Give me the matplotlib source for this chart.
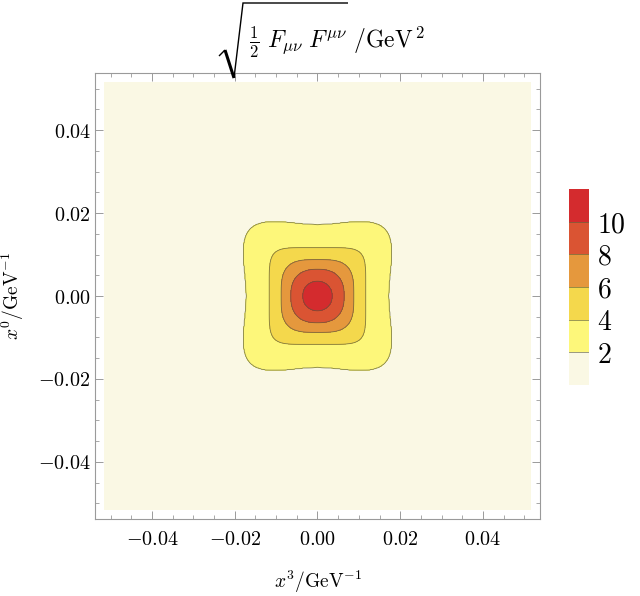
import numpy as np
import matplotlib
matplotlib.use("Agg")
import matplotlib.pyplot as plt
from matplotlib.colors import ListedColormap, BoundaryNorm
from matplotlib.ticker import MultipleLocator, FuncFormatter
from matplotlib.lines import Line2D

plt.rcParams.update({
    "mathtext.fontset": "cm",
    "font.family": "serif",
    "font.serif": ["DejaVu Serif"],
})

# ── contour levels and their shape (GeV^-1) ──
LEVELS     = [0, 2, 4, 6, 8, 10, 12]
CB_TICKS   = [2, 4, 6, 8, 10]
# for contours 10, 8, 6, 4, 2: radius at mid-side, radius on the diagonal,
# and how much the sides dip inwards at mid-side
R_LEVELS   = [10, 8, 6, 4, 2]
R_AXIS     = [0.00358, 0.00646, 0.00878, 0.01165, 0.0172]
R_DIAG     = [0.00362, 0.0069, 0.0101, 0.01467, 0.0229]
SIDE_DIP   = [0.0, 0.0, 0.0, 0.0, 0.06]
PEAK_VALUE = 11.6
EDGE_VALUE = 0.5
EDGE_R     = 0.09
COLORS     = ["#FAF8E4", "#FDF77A", "#F4D84C", "#E5983D", "#DA5433", "#D42B2E"]

DATA_HALF = 0.0516
AX_HALF   = 0.0538

# ── build the field from the contour shapes ──
g = np.linspace(-DATA_HALF, DATA_HALF, 601)
X, Y = np.meshgrid(g, g)
R = np.hypot(X, Y)
Rs = np.where(R > 0, R, 1.0)
C = np.abs(X) / Rs
S = np.abs(Y) / Rs
COS2 = ((X**2 - Y**2) / Rs**2) ** 2

knots_r = [np.zeros_like(R)]
knots_v = [PEAK_VALUE]
for lev, ra, rd, dip in zip(R_LEVELS, R_AXIS, R_DIAG, SIDE_DIP):
    a = ra / (1 - dip)
    p = 1.0 / (0.5 - np.log2(rd / a))
    shape = 1.0 / (C**p + S**p) ** (1.0 / p)
    knots_r.append(a * shape * (1 - dip * COS2))
    knots_v.append(lev)
knots_r.append(np.full_like(R, EDGE_R))
knots_v.append(EDGE_VALUE)

Z = np.full_like(R, EDGE_VALUE)
for k in range(len(knots_r) - 1):
    r0, r1 = knots_r[k], knots_r[k + 1]
    m = (R >= r0) & (R < r1)
    Z[m] = knots_v[k] + (knots_v[k + 1] - knots_v[k]) * (R[m] - r0[m]) / (r1[m] - r0[m])

fig = plt.figure(figsize=(6.4, 5.96), dpi=100)
ax = fig.add_axes([0.1484, 0.1292, 0.6953, 0.7483])

cmap = ListedColormap(COLORS)
norm = BoundaryNorm(LEVELS, cmap.N)
cs = ax.contourf(X, Y, Z, levels=LEVELS, cmap=cmap, norm=norm)
ax.contour(X, Y, Z, levels=CB_TICKS, colors="#5a5a3a", linewidths=0.6, alpha=0.75)

ax.set_xlim(-AX_HALF, AX_HALF)
ax.set_ylim(-AX_HALF, AX_HALF)

fmt = FuncFormatter(lambda v, p: "$%.2f$" % (0.0 if abs(v) < 1e-9 else v))
for axis in (ax.xaxis, ax.yaxis):
    axis.set_major_locator(MultipleLocator(0.02))
    axis.set_minor_locator(MultipleLocator(0.005))
    axis.set_major_formatter(fmt)
ax.tick_params(which="both", direction="in", top=True, right=True,
               color="#9a9a9a", labelsize=14.5)
ax.tick_params(axis="x", pad=8)
ax.tick_params(axis="y", pad=3)
ax.tick_params(which="major", length=6, width=0.7)
ax.tick_params(which="minor", length=3, width=0.6)
for sp in ax.spines.values():
    sp.set_color("#9a9a9a")
    sp.set_linewidth(0.8)

ax.set_xlabel(r"$x^3/\mathrm{GeV}^{-1}$", fontsize=14, labelpad=14)
ax.set_ylabel(r"$x^0/\mathrm{GeV}^{-1}$", fontsize=14)
ax.yaxis.set_label_coords(-0.155, 0.5)

# title: text plus a tall radical drawn by hand (as in the original)
W_PX, H_PX = 640.0, 596.0
fig.text(249 / W_PX, 1 - 48 / H_PX,
         r"$\frac{1}{2}\ F_{\mu\nu}\ F^{\mu\nu}\ /\mathrm{GeV}^{\,2}$",
         fontsize=17, ha="left", va="baseline")
tf = fig.transFigure
def _px(xs, ys):
    return [x / W_PX for x in xs], [1 - y / H_PX for y in ys]
for xs, ys, lw in [([219, 225], [56, 50], 1.0),
                   ([225, 234], [50, 78], 2.2),
                   ([234, 243, 348], [78, 3, 3], 1.0)]:
    fx, fy = _px(xs, ys)
    fig.add_artist(Line2D(fx, fy, transform=tf, color="black", lw=lw,
                          solid_joinstyle="miter", solid_capstyle="butt"))

# legend bar
cax = fig.add_axes([0.889, 0.354, 0.03125, 0.329])
cb = fig.colorbar(cs, cax=cax, ticks=CB_TICKS)
cb.outline.set_visible(False)
cax.minorticks_off()
cax.tick_params(which="both", length=0, labelsize=20, pad=6)
cax.set_yticklabels([f"${t}$" for t in CB_TICKS])
for t in CB_TICKS:
    cax.axhline(t, color="#5a5a3a", lw=0.6, alpha=0.7)

fig.savefig("out.png", dpi=100)
